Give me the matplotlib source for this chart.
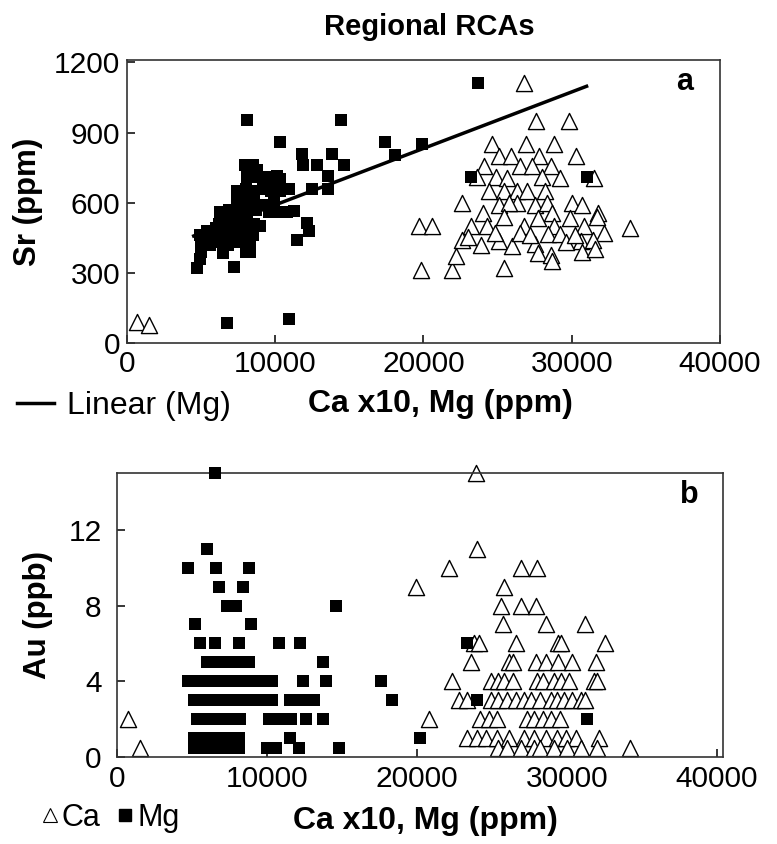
import matplotlib
matplotlib.use("Agg")
import matplotlib.pyplot as plt
from matplotlib.lines import Line2D

plt.rcParams['font.family'] = ['Liberation Sans', 'DejaVu Sans']

# ---- panel a: Sr vs Ca x10 / Mg ----
a_ca_x = [650, 1500, 19700, 20600, 19800, 21900, 25400,
          26800, 27600, 29800, 24600, 26900, 28800,
          30300, 25100, 25900, 27800,
          24100, 26500, 27300, 28600,
          23600, 24900, 25600, 28000, 29200, 31500,
          24400, 25400, 26300, 27000, 28200,
          22600, 25100, 26300, 27500, 30000, 30700, 25800, 28300,
          24000, 28700, 31800,
          23200, 24300, 25400, 26800, 27700, 28800, 29900, 30800, 31700, 32200, 33900,
          22600, 23900, 25100, 26000, 27500, 28400, 29200, 30600, 31400,
          23000, 24800, 26500, 27200, 29600, 30200,
          22200, 27700, 28600, 28700, 30700, 31600]
a_ca_y = [90, 75, 500, 500, 310, 310, 320,
          1110, 950, 950, 850, 850, 850,
          800, 800, 800, 800,
          755, 755, 755, 755,
          710, 710, 705, 710, 705, 705,
          650, 650, 650, 650, 650,
          600, 590, 600, 590, 600, 590, 600, 600,
          555, 555, 555,
          500, 500, 540, 500, 535, 500, 535, 500, 540, 470, 490,
          440, 420, 435, 415, 425, 465, 465, 435, 440,
          455, 470, 470, 460, 430, 460,
          370, 385, 375, 350, 390, 400]

a_mg_x = [7950, 8500, 8800,
          8100, 8700, 9300, 9800, 10300,
          7400, 8000, 8600, 9200, 9700, 10300, 10800,
          7400, 8000, 8600, 9300, 9900,
          6300, 6900, 7500, 8100, 8700, 9600, 10200, 10800, 11240,
          6200, 6800, 7400, 8000, 8600, 9000,
          5400, 6000, 6600, 7200, 7800, 8300,
          4900, 5500, 6100, 6700, 7300, 7900, 8500,
          5000, 5600, 6200, 6800, 7400, 8000, 8300,
          5000, 6500, 8000, 8300, 4900, 4700, 7230,
          8090, 14440, 10290, 17400, 19900, 18100, 11800, 13830, 11900, 12820,
          14620, 13580, 12480, 13580, 10110, 10900, 12140, 12300, 11460,
          23700, 23200, 31000, 6740, 10900]
a_mg_y = [760, 760, 740,
          710, 710, 710, 700, 700,
          650, 660, 650, 660, 650, 650, 660,
          600, 610, 600, 590, 600,
          560, 570, 560, 560, 570, 560, 560, 560, 563,
          510, 520, 510, 520, 510, 500,
          480, 490, 480, 480, 490, 480,
          460, 450, 460, 450, 460, 450, 460,
          430, 420, 430, 420, 430, 420, 430,
          390, 385, 390, 390, 360, 320, 327,
          955, 955, 858, 858, 850, 805, 806, 806, 763, 763,
          763, 713, 659, 659, 713, 659, 513, 480, 441,
          1110, 710, 710, 84, 101]

# Excel linear trendline for Mg
trend_x = [4500, 31000]
trend_slope = 0.02415
trend_icept = 349

# ---- panel b: Au vs Ca x10 / Mg ----
b_ca = {
    15: [23900],
    11: [24000],
    10: [22100, 26900, 28000],
    9: [19900, 25800],
    8: [25600, 26900, 27900],
    7: [25700, 28600, 31200],
    6: [23800, 24100, 26600, 29400, 29600, 32500],
    5: [23600, 26100, 26400, 27900, 28600, 29400, 30300, 31900],
    4: [22300, 24900, 25400, 25800, 26400, 28000, 28400, 29100, 29600, 30100, 31800, 32000],
    3: [22800, 23300, 24900, 25400, 26000, 26600, 27100, 27600, 28200, 28900, 29300,
        29800, 30300, 30900, 31200],
    2: [750, 20800, 24200, 24800, 25300, 27300, 27800, 28400, 28900, 29500],
    1: [23300, 24000, 24600, 25300, 26100, 27100, 27800, 28600, 29300, 29900, 30600, 32100],
    0.5: [1500, 25400, 26000, 26900, 27800, 28200, 29100, 30000, 30900, 32000, 34200],
}
b_mg = {
    15: [6500],
    11: [6000],
    10: [4700, 6600, 8800],
    9: [6800, 8400],
    8: [7300, 7900, 14600],
    7: [5200, 8900],
    6: [5500, 6500, 8100, 10800, 12200, 23300],
    5: [6000, 6700, 7300, 7900, 8500, 8800, 13700],
    4: [4700, 5300, 5900, 6500, 7100, 7700, 8300, 8600, 9300, 9900, 10300, 12400, 13900, 17600],
    3: [5100, 5800, 6400, 7000, 7600, 8200, 8800, 9400, 9900, 10300, 11500, 12000, 12600,
        13100, 18300, 24000],
    2: [5300, 5900, 6500, 7100, 7700, 8200, 10100, 10700, 11300, 11600, 12600, 13700, 31300],
    1: [5100, 5700, 6300, 6900, 7300, 7800, 8100, 11500, 20200],
    0.5: [5100, 5700, 6300, 6900, 7500, 8100, 10000, 10600, 12100, 14800],
}


def flatten(d):
    xs, ys = [], []
    for y, row in d.items():
        for x in row:
            xs.append(x)
            ys.append(y)
    return xs, ys


b_ca_x, b_ca_y = flatten(b_ca)
b_mg_x, b_mg_y = flatten(b_mg)

W, H = 777, 844
fig = plt.figure(figsize=(W / 100, H / 100), dpi=100)


def style_axes(ax, xpad, ypad):
    for s in ax.spines.values():
        s.set_linewidth(1.2)
        s.set_color('#333333')
    ax.tick_params(direction='in', length=6, width=1.1, labelsize=21.5,
                   top=False, right=False)
    ax.tick_params(axis='x', pad=xpad)
    ax.tick_params(axis='y', pad=ypad)


tri_kw = dict(marker='^', s=135, facecolors='white', edgecolors='black',
              linewidths=1.0, clip_on=False, zorder=2)
sq_kw = dict(marker='s', s=82, color='black', linewidths=0, clip_on=False, zorder=3)

# panel a
ax1 = fig.add_axes([127 / W, 1 - 343 / H, 593 / W, 283 / H])
ax1.scatter(a_ca_x, a_ca_y, **tri_kw)
ax1.scatter(a_mg_x, a_mg_y, **sq_kw)
ty = [trend_icept + trend_slope * x for x in trend_x]
ax1.plot(trend_x, ty, color='black', lw=2.5, zorder=4)
ax1.set_xlim(0, 40000)
ax1.set_ylim(0, 1210)
ax1.set_xticks([0, 10000, 20000, 30000, 40000])
ax1.set_yticks([0, 300, 600, 900, 1200])
style_axes(ax1, 5, 5)
ax1.set_ylabel('Sr (ppm)', fontsize=22.5, fontweight='bold')
ax1.yaxis.set_label_coords((43 - 127) / 593, 0.5)
ax1.set_xlabel('Ca x10, Mg (ppm)', fontsize=23, fontweight='bold')
ax1.xaxis.set_label_coords((440 - 127) / 593, (343 - 389) / 283)
ax1.text(0.941, 0.922, 'a', transform=ax1.transAxes, fontsize=22,
         fontweight='bold', ha='center', va='center')
ax1.legend([Line2D([], [], color='black', lw=2.5)], ['Linear (Mg)'],
           loc='center left', bbox_to_anchor=(17 / W, 1 - 406 / H),
           bbox_transform=fig.transFigure, frameon=False, fontsize=23,
           handlelength=1.15, handletextpad=0.4, borderpad=0, borderaxespad=0)

# panel b
ax2 = fig.add_axes([117 / W, 1 - 757 / H, 606 / W, 284 / H])
ax2.scatter(b_ca_x, b_ca_y, **tri_kw)
ax2.scatter(b_mg_x, b_mg_y, **sq_kw)
ax2.set_xlim(0, 40400)
ax2.set_ylim(0, 15)
ax2.set_xticks([0, 10000, 20000, 30000, 40000])
ax2.set_yticks([0, 4, 8, 12])
style_axes(ax2, 6, 11)
ax2.set_ylabel('Au (ppb)', fontsize=22.5, fontweight='bold')
ax2.yaxis.set_label_coords((53 - 117) / 606, 0.5)
ax2.set_xlabel('Ca x10, Mg (ppm)', fontsize=23, fontweight='bold')
ax2.xaxis.set_label_coords((425 - 117) / 606, (757 - 806) / 284)
ax2.text(0.944, 0.923, 'b', transform=ax2.transAxes, fontsize=22,
         fontweight='bold', ha='center', va='center')
leg_tri = Line2D([], [], marker='^', ls='none', markersize=9.5,
                 markerfacecolor='white', markeredgecolor='black', markeredgewidth=0.8)
leg_sq = Line2D([], [], marker='s', ls='none', markersize=8.5, color='black')
ax2.legend([leg_tri, leg_sq], ['Ca', 'Mg'], ncol=2,
           loc='center left', bbox_to_anchor=(42 / W, 1 - 818 / H),
           bbox_transform=fig.transFigure, frameon=False, fontsize=22,
           handlelength=0.5, handletextpad=0.15, columnspacing=0.55,
           borderpad=0, borderaxespad=0)

fig.text(429 / W, 1 - 27 / H, 'Regional RCAs', fontsize=21, fontweight='bold',
         ha='center', va='center')

fig.savefig('out.png', dpi=100)
